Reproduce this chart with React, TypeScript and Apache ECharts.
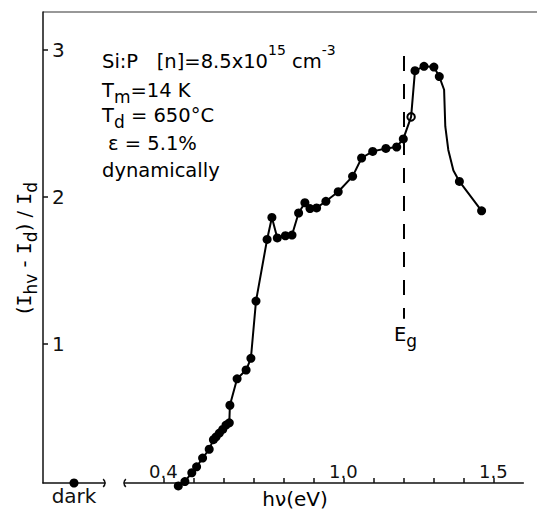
import React, { useEffect, useRef } from "react";
import * as echarts from "echarts";

// ---- data ----
const photonEnergy = [
  0.450, 0.472, 0.495, 0.511, 0.531, 0.553, 0.567, 0.576, 0.587, 0.598,
  0.609, 0.620, 0.622, 0.646, 0.676, 0.692, 0.709, 0.746, 0.762, 0.780,
  0.807, 0.829, 0.851, 0.872, 0.889, 0.911, 0.942, 0.983, 1.031, 1.061,
  1.098, 1.142, 1.178, 1.200, 1.226, 1.239, 1.269, 1.302, 1.320, 1.387,
  1.461,
];
const photoResponse = [
  0.03, 0.06, 0.12, 0.16, 0.22, 0.28, 0.345, 0.365, 0.39, 0.415,
  0.445, 0.46, 0.58, 0.76, 0.82, 0.90, 1.29, 1.71, 1.86, 1.72,
  1.735, 1.74, 1.89, 1.96, 1.92, 1.925, 1.97, 2.035, 2.14, 2.265,
  2.31, 2.33, 2.34, 2.395, 2.545, 2.86, 2.89, 2.885, 2.82, 2.105,
  1.905,
];
// hand-drawn curve between measured points (no markers)
const curveEnergy = [1.336, 1.340, 1.350, 1.367];
const curveResponse = [2.73, 2.48, 2.32, 2.18];
const hollowPointIndex = [34];

const darkCategory = ["dark"];
const darkResponse = [0.05];

const yTicks = [1, 2, 3];
const xTicks = [0.4, 0.5, 0.6, 0.7, 0.8, 0.9, 1.0, 1.1, 1.2, 1.3, 1.4, 1.5];
const xTickLabels = [0.4, 1.0, 1.5];
const X_MIN = 0.27;
const X_MAX = 1.6;
const Y_MIN = 0.05;
const Y_MAX = 3.26;

const EG_ENERGY = 1.2;
const EG_TOP = 2.96;
const EG_BOTTOM = 1.17;

const FONT = "DejaVu Sans";
const INK = "#111";

export default function App() {
  const ref = useRef<HTMLDivElement>(null);

  useEffect(() => {
    if (!ref.current) return;
    const chart = echarts.init(ref.current, undefined, { renderer: "svg" });

    const linePts = photonEnergy
      .map((x, i) => [x, photoResponse[i]])
      .concat(curveEnergy.map((x, i) => [x, curveResponse[i]]))
      .sort((a, b) => a[0] - b[0]);

    const dots = photonEnergy.map((x, i) => {
      if (hollowPointIndex.includes(i)) {
        return {
          value: [x, photoResponse[i]],
          symbol: "emptyCircle",
          symbolSize: 7.5,
          itemStyle: { color: "#000", borderColor: "#000", borderWidth: 3, opacity: 1 },
        };
      }
      return { value: [x, photoResponse[i]] };
    });

    const norm = { fontFamily: FONT, fontSize: 19.5, color: INK, lineHeight: 24, verticalAlign: "bottom", padding: [0, 0, 5, 0] };
    const sub = { fontFamily: FONT, fontSize: 17, color: INK, lineHeight: 17, verticalAlign: "bottom" };
    const sup = { fontFamily: FONT, fontSize: 14, color: INK, lineHeight: 14, verticalAlign: "bottom", padding: [0, 0, 19, 0] };
    const rich = { n: norm, sub, sup, I: { ...norm, fontFamily: "DejaVu Sans Mono", fontSize: 20 } };

    const option: any = {
      animation: false,
      backgroundColor: "#fff",
      grid: [
        { left: 43, top: 12, width: 62, bottom: 31 },
        { left: 124.3, top: 12, width: 399, bottom: 31 },
      ],
      xAxis: [
        {
          gridIndex: 0,
          type: "category",
          data: darkCategory,
          axisLine: { lineStyle: { color: INK, width: 1.5 } },
          axisTick: { show: false },
          axisLabel: { fontFamily: FONT, fontSize: 20, color: INK, margin: 3 },
          splitLine: { show: false },
        },
        {
          gridIndex: 1,
          type: "value",
          min: X_MIN,
          max: X_MAX,
          axisLine: { show: true, lineStyle: { color: INK, width: 1.5 } },
          axisTick: { show: true, inside: true, length: 5, customValues: xTicks, lineStyle: { color: INK, width: 1.5 } },
          axisLabel: {
            inside: true,
            customValues: xTickLabels,
            formatter: (v: number) => v.toFixed(1),
            fontFamily: FONT,
            fontSize: 18,
            color: INK,
            margin: 3,
          },
          splitLine: { show: false },
        },
      ],
      yAxis: [
        {
          gridIndex: 0,
          type: "value",
          min: Y_MIN,
          max: Y_MAX,
          axisLine: { show: true, lineStyle: { color: INK, width: 1.5 } },
          axisTick: { show: true, inside: true, length: 5, customValues: yTicks, lineStyle: { color: INK, width: 1.5 } },
          axisLabel: { inside: true, customValues: yTicks, fontFamily: FONT, fontSize: 20, color: INK, margin: 9 },
          splitLine: { show: false },
        },
        { gridIndex: 1, type: "value", min: Y_MIN, max: Y_MAX, show: false },
      ],
      series: [
        {
          type: "scatter",
          xAxisIndex: 0,
          yAxisIndex: 0,
          data: darkCategory.map((c, i) => [c, darkResponse[i]]),
          symbolSize: 9,
          itemStyle: { color: "#000", opacity: 1 },
          clip: false,
        },
        {
          type: "line",
          xAxisIndex: 1,
          yAxisIndex: 1,
          data: linePts,
          showSymbol: false,
          symbol: "none",
          lineStyle: { color: "#000", width: 2 },
          clip: false,
          markLine: {
            silent: true,
            symbol: ["none", "none"],
            label: { show: false },
            lineStyle: { color: "#000", width: 2, type: [15, 13] },
            data: [[{ coord: [EG_ENERGY, EG_TOP] }, { coord: [EG_ENERGY, EG_BOTTOM] }]],
          },
        },
        {
          type: "scatter",
          xAxisIndex: 1,
          yAxisIndex: 1,
          data: dots,
          symbolSize: 9,
          itemStyle: { color: "#000", opacity: 1 },
          clip: false,
        },
      ],
      graphic: [
        { type: "line", shape: { x1: 43, y1: 12, x2: 537, y2: 12 }, style: { stroke: "#333", lineWidth: 1.2 } },
        { type: "arc", shape: { cx: 100, cy: 483, r: 5, startAngle: -0.9, endAngle: 0.9, clockwise: true }, style: { stroke: INK, lineWidth: 1.5, fill: "none" } },
        { type: "arc", shape: { cx: 129, cy: 483, r: 5, startAngle: Math.PI - 0.9, endAngle: Math.PI + 0.9, clockwise: true }, style: { stroke: INK, lineWidth: 1.5, fill: "none" } },
        { type: "text", x: 102, y: 64, style: { text: "{n|Si:P   [n]=8.5x10}{sup|15}{n| cm}{sup|-3}", rich, verticalAlign: "middle" } },
        { type: "text", x: 102, y: 93, style: { text: "{n|T}{sub|m}{n|=14 K}", rich, verticalAlign: "middle" } },
        { type: "text", x: 102, y: 118, style: { text: "{n|T}{sub|d}{n| = 650°C}", rich, verticalAlign: "middle" } },
        { type: "text", x: 108, y: 146, style: { text: "{n|ε = 5.1%}", rich, verticalAlign: "middle" } },
        { type: "text", x: 102, y: 173, style: { text: "{n|dynamically}", rich, verticalAlign: "middle" } },
        { type: "text", x: 394, y: 337, style: { text: "{n|E}{sub|g}", rich, verticalAlign: "middle" } },
        {
          type: "text",
          x: 27,
          y: 248,
          rotation: Math.PI / 2,
          style: { text: "{n|(}{I|I}{sub|hv}{n| - }{I|I}{sub|d}{n|) / }{I|I}{sub|d}", rich, align: "center", verticalAlign: "middle" },
        },
        { type: "text", x: 295, y: 497, style: { text: "{n|hν(eV)}", rich: { n: { ...norm, padding: 0, fontSize: 20 } }, align: "center", verticalAlign: "middle" } },
      ],
    };

    chart.setOption(option);
    return () => chart.dispose();
  }, []);

  return <div ref={ref} style={{ position: "fixed", left: 0, top: 0, width: 537, height: 514 }} />;
}
